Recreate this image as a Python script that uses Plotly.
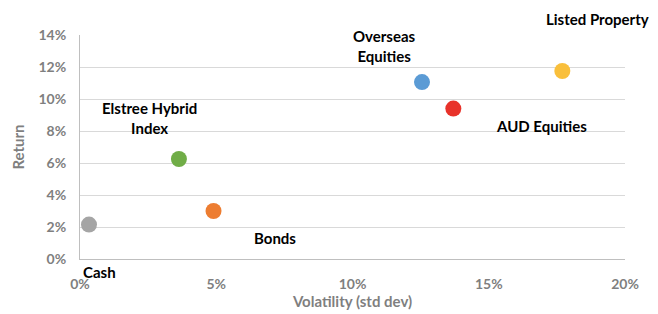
import plotly.graph_objects as go

assets = ["Cash", "Elstree Hybrid<br>Index", "Bonds", "Overseas<br>Equities", "AUD Equities", "Listed Property"]
volatility = [0.0033, 0.0363, 0.049, 0.1255, 0.137, 0.177]
returns = [0.0215, 0.0625, 0.030, 0.1106, 0.094, 0.1175]
colors = ["#A5A5A5", "#70AD47", "#ED7D31", "#5B9BD5", "#E8322A", "#F9BF3B"]
label_dx = [11, -29, 61, -37, 88, 35]
label_dy = [-47, 41, -27, 36, -17, 52]

x_ticks = [0, 0.05, 0.10, 0.15, 0.20]
y_ticks = [0, 0.02, 0.04, 0.06, 0.08, 0.10, 0.12, 0.14]

FONT = "Lato"
fig = go.Figure()
fig.add_trace(go.Scatter(
    x=volatility, y=returns, mode="markers",
    marker=dict(size=16, color=colors, line=dict(width=0)),
    showlegend=False, hoverinfo="skip",
))
for name, xv, yv, dx, dy in zip(assets, volatility, returns, label_dx, label_dy):
    fig.add_annotation(x=xv, y=yv, text=f"<b>{name}</b>", showarrow=False,
                       xshift=dx, yshift=dy,
                       font=dict(family=FONT, size=15, color="#000000"))

fig.update_layout(
    width=658, height=314,
    margin=dict(l=72, r=41, t=27, b=63, autoexpand=False),
    paper_bgcolor="white", plot_bgcolor="white",
    font=dict(family=FONT, color="#7F7F7F"),
)
fig.update_xaxes(
    range=[0, 0.20], tickvals=x_ticks, tickformat=".0%", automargin=False,
    showgrid=False, zeroline=False, showline=True, linecolor="#BFBFBF", linewidth=1,
    tickfont=dict(family=FONT, size=14, color="#7F7F7F", weight="bold"),
    ticks="", ticklabelstandoff=12,
    title=dict(text="<b>Volatility (std dev)</b>", font=dict(family=FONT, size=15, color="#7F7F7F"), standoff=4),
)
fig.update_yaxes(
    range=[0, 0.14], tickvals=y_ticks, tickformat=".0%", automargin=False,
    showgrid=True, gridcolor="#D9D9D9", gridwidth=1, zeroline=False,
    showline=True, linecolor="#BFBFBF", linewidth=1,
    tickfont=dict(family=FONT, size=14, color="#7F7F7F", weight="bold"),
    ticks="", ticklabelstandoff=10,
    title=dict(text="<b>Return</b>", font=dict(family=FONT, size=15, color="#7F7F7F"), standoff=10),
)
fig.write_html("out.html")
